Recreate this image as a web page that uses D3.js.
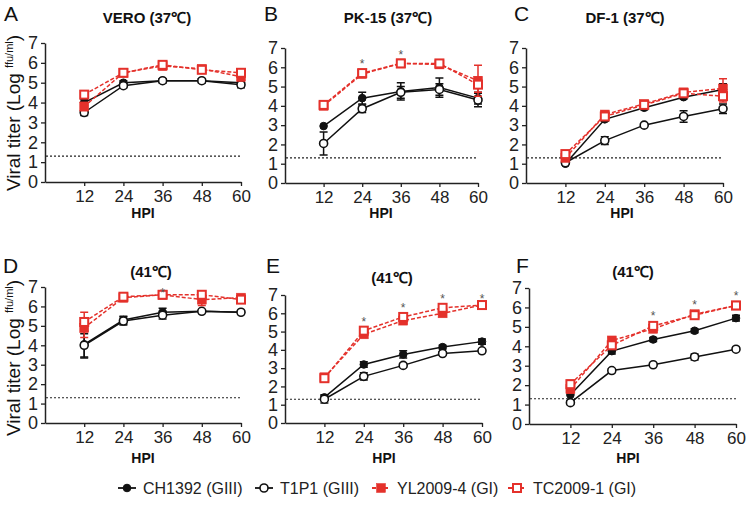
<!DOCTYPE html>
<html>
<head>
<meta charset="utf-8">
<script src="https://cdn.jsdelivr.net/npm/d3@7"></script>
<style>
  body { margin: 0; background: #fff; }
  text { font-family: Arial, "Liberation Sans", sans-serif; }
</style>
</head>
<body>
<svg id="chart" width="750" height="507"></svg>
<script>
const hpi = [12, 24, 36, 48, 60];
const strains = ['CH1392 (GIII)', 'T1P1 (GIII)', 'YL2009-4 (GI)', 'TC2009-1 (GI)'];
const panelLetters = ['A', 'B', 'C', 'D', 'E', 'F'];
const panelTitles = ['VERO (37℃)', 'PK-15 (37℃)', 'DF-1 (37℃)', '(41℃)', '(41℃)', '(41℃)'];
const yTicks = [0, 1, 2, 3, 4, 5, 6, 7];
const detectionLimit = 1.3;

// mean titers, rows: CH1392, T1P1, YL2009-4, TC2009-1
const titerA = [[4.0, 5.0, 5.1, 5.1, 5.0], [3.5, 4.85, 5.1, 5.1, 4.9], [3.8, 5.5, 5.85, 5.7, 5.3], [4.4, 5.5, 5.9, 5.65, 5.5]];
const titerB = [[2.95, 4.4, 4.75, 4.95, 4.4], [2.05, 3.85, 4.7, 4.85, 4.3], [4.0, 5.65, 6.2, 6.15, 5.3], [4.05, 5.7, 6.2, 6.2, 5.1]];
const titerC = [[1.0, 3.3, 3.9, 4.45, 4.85], [1.05, 2.2, 3.0, 3.45, 3.85], [1.3, 3.55, 4.1, 4.7, 4.9], [1.5, 3.45, 4.05, 4.65, 4.5]];
const titerD = [[4.05, 5.3, 5.7, 5.75, 5.7], [4.0, 5.25, 5.55, 5.75, 5.7], [4.9, 6.45, 6.6, 6.35, 6.45], [5.2, 6.5, 6.6, 6.6, 6.35]];
const titerE = [[1.4, 3.2, 3.75, 4.15, 4.45], [1.3, 2.55, 3.15, 3.8, 3.95], [2.5, 4.85, 5.6, 6.0, 6.45], [2.45, 5.05, 5.8, 6.3, 6.45]];
const titerF = [[1.5, 3.75, 4.35, 4.8, 5.45], [1.1, 2.75, 3.05, 3.45, 3.85], [1.8, 4.3, 4.9, 5.65, 6.1], [2.05, 4.05, 5.05, 5.6, 6.1]];

// error bars (SD)
const errA = [[0.15, 0.1, 0.1, 0.1, 0.1], [0.15, 0.1, 0.1, 0.1, 0.15], [0.2, 0.1, 0.2, 0.15, 0.2], [0.15, 0.1, 0.15, 0.15, 0.2]];
const errB = [[0.05, 0.3, 0.45, 0.5, 0.3], [0.6, 0.2, 0.3, 0.3, 0.35], [0.1, 0.1, 0.1, 0.2, 0.8], [0.1, 0.1, 0.1, 0.15, 0.4]];
const errC = [[0.05, 0.1, 0.1, 0.1, 0.3], [0.05, 0.2, 0.05, 0.3, 0.25], [0.1, 0.15, 0.15, 0.15, 0.5], [0.15, 0.15, 0.1, 0.15, 0.3]];
const errD = [[0.7, 0.2, 0.2, 0.05, 0.05], [0.6, 0.2, 0.2, 0.05, 0.05], [0.5, 0.2, 0.1, 0.3, 0.15], [0.5, 0.2, 0.1, 0.2, 0.15]];
const errE = [[0.15, 0.15, 0.2, 0.1, 0.15], [0.2, 0.2, 0.1, 0.1, 0.1], [0.2, 0.15, 0.1, 0.1, 0.1], [0.1, 0.1, 0.1, 0.1, 0.1]];
const errF = [[0.3, 0.15, 0.1, 0.1, 0.15], [0.1, 0.1, 0.05, 0.15, 0.1], [0.2, 0.15, 0.15, 0.1, 0.15], [0.2, 0.15, 0.15, 0.1, 0.1]];

// time points marked significant
const starsA = [];
const starsB = [24, 36];
const starsC = [];
const starsD = [36];
const starsE = [24, 36, 48, 60];
const starsF = [36, 48, 60];

const titers = [titerA, titerB, titerC, titerD, titerE, titerF];
const errs = [errA, errB, errC, errD, errE, errF];
const stars = [starsA, starsB, starsC, starsD, starsE, starsF];

const red = '#e4312b';
const styles = [
  {color: '#111', dash: null, shape: 'circle', filled: true},
  {color: '#111', dash: null, shape: 'circle', filled: false},
  {color: red, dash: '4,2', shape: 'square', filled: true},
  {color: red, dash: '4,2', shape: 'square', filled: false}
];

// plot boxes (pixel layout)
const boxes = [
  {x0: 45, x1: 241, y0: 43, y1: 182, tx: 147, ty: 23, lx: 4, ly: 21, hx: 143, hy: 218},
  {x0: 285, x1: 478, y0: 48, y1: 183, tx: 388, ty: 23, lx: 264, ly: 21, hx: 381, hy: 218},
  {x0: 526, x1: 723, y0: 48, y1: 183, tx: 625, ty: 23, lx: 514, ly: 21, hx: 622, hy: 218},
  {x0: 45, x1: 241, y0: 287, y1: 423, tx: 151, ty: 277, lx: 3, ly: 273, hx: 143, hy: 463},
  {x0: 285, x1: 482, y0: 295, y1: 423, tx: 392, ty: 283, lx: 266, ly: 273, hx: 384, hy: 463},
  {x0: 529, x1: 736, y0: 288, y1: 424, tx: 633, ty: 277, lx: 516, ly: 273, hx: 628, hy: 463}
];

const svg = d3.select('#chart');

function drawMarker(g, st, cx, cy) {
  if (st.shape === 'circle') {
    g.append('circle')
      .attr('cx', cx).attr('cy', cy)
      .attr('r', st.filled ? 3.8 : 4)
      .attr('fill', st.filled ? st.color : '#fff')
      .attr('stroke', st.color)
      .attr('stroke-width', st.filled ? 1 : 1.6);
  } else {
    const s = st.filled ? 9 : 8;
    g.append('rect')
      .attr('x', cx - s / 2).attr('y', cy - s / 2)
      .attr('width', s).attr('height', s)
      .attr('fill', st.filled ? st.color : '#fff')
      .attr('stroke', st.color)
      .attr('stroke-width', st.filled ? 0.5 : 2);
  }
}

boxes.forEach((b, p) => {
  const x = d3.scaleLinear().domain([0, 60]).range([b.x0, b.x1]);
  const y = d3.scaleLinear().domain([0, 7]).range([b.y1, b.y0]);
  const g = svg.append('g');

  // axes
  const ya = g.append('g')
    .attr('transform', `translate(${b.x0},0)`)
    .call(d3.axisLeft(y).tickValues(yTicks).tickFormat(d3.format('d'))
      .tickSize(4).tickSizeOuter(0).tickPadding(3));
  const xa = g.append('g')
    .attr('transform', `translate(0,${b.y1})`)
    .call(d3.axisBottom(x).tickValues(hpi).tickSize(4).tickSizeOuter(0).tickPadding(4));
  [ya, xa].forEach(a => {
    a.select('.domain').attr('stroke', '#222').attr('stroke-width', 1.5);
    a.selectAll('.tick line').attr('stroke', '#222').attr('stroke-width', 1.3);
    a.selectAll('.tick text').attr('fill', '#222').attr('font-size', 17)
      .style('font-family', 'Arial, "Liberation Sans", sans-serif');
  });
  ya.selectAll('.tick text').attr('font-size', 18);

  // detection limit
  g.append('line')
    .attr('x1', b.x0 + 1).attr('x2', b.x1)
    .attr('y1', y(detectionLimit)).attr('y2', y(detectionLimit))
    .attr('stroke', '#222').attr('stroke-width', 1.2)
    .attr('stroke-dasharray', '2,2');

  // series
  const line = d3.line().x((d, i) => x(hpi[i])).y(d => y(d));
  titers[p].forEach((vals, s) => {
    const st = styles[s];
    const sg = g.append('g');
    sg.append('path')
      .attr('d', line(vals))
      .attr('fill', 'none')
      .attr('stroke', st.color)
      .attr('stroke-width', 1.5)
      .attr('stroke-dasharray', st.dash);
    vals.forEach((v, i) => {
      const e = errs[p][s][i];
      const cx = x(hpi[i]);
      if (e > 0.05) {
        sg.append('path')
          .attr('d', `M${cx},${y(v - e)}V${y(v + e)}M${cx - 4},${y(v - e)}H${cx + 4}M${cx - 4},${y(v + e)}H${cx + 4}`)
          .attr('stroke', st.color).attr('stroke-width', 1.5).attr('fill', 'none');
      }
    });
    vals.forEach((v, i) => drawMarker(sg, st, x(hpi[i]), y(v)));
  });

  // significance stars (kept clear of the panel title)
  stars[p].forEach(t => {
    const i = hpi.indexOf(t);
    const top = d3.max(titers[p], (vals, s) => vals[i] + errs[p][s][i]);
    const cy = Math.max(y(top) - 10, b.ty + 13);
    g.append('text')
      .attr('x', x(t)).attr('y', cy + 7)
      .attr('text-anchor', 'middle')
      .attr('font-size', 12).attr('fill', '#555')
      .text('*');
  });

  // labels
  g.append('text').attr('x', b.tx).attr('y', b.ty)
    .attr('text-anchor', 'middle').attr('font-size', 15).attr('font-weight', 'bold')
    .attr('fill', '#111').text(panelTitles[p]);
  g.append('text').attr('x', b.lx).attr('y', b.ly)
    .attr('font-size', 21).attr('fill', '#111').text(panelLetters[p]);
  g.append('text').attr('x', b.hx).attr('y', b.hy)
    .attr('text-anchor', 'middle').attr('font-size', 14).attr('font-weight', 'bold')
    .attr('fill', '#111').text('HPI');
});

// y-axis titles (left column)
[113, 358].forEach(cy => {
  const t = svg.append('text')
    .attr('transform', `translate(20,${cy}) rotate(-90)`)
    .attr('text-anchor', 'middle')
    .attr('font-size', 19).attr('fill', '#111');
  t.append('tspan').text('Viral titer (Log ');
  t.append('tspan').attr('font-size', 11).attr('dy', -7).text('ffu/ml');
  t.append('tspan').attr('dy', 7).text(')');
});

// legend
const legendX = [143, 280, 397, 533];
const legend = svg.append('g').attr('transform', 'translate(0,488)');
strains.forEach((name, s) => {
  const st = styles[s];
  const lg = legend.append('g').attr('transform', `translate(${legendX[s]},0)`);
  lg.append('line').attr('x1', -25).attr('x2', -7).attr('y1', 0).attr('y2', 0)
    .attr('stroke', st.color).attr('stroke-width', 1.8).attr('stroke-dasharray', st.dash);
  drawMarker(lg, st, -16, 0);
  lg.append('text').attr('x', 0).attr('y', 5.5)
    .attr('font-size', 16).attr('fill', '#222').text(name);
});
</script>
</body>
</html>
